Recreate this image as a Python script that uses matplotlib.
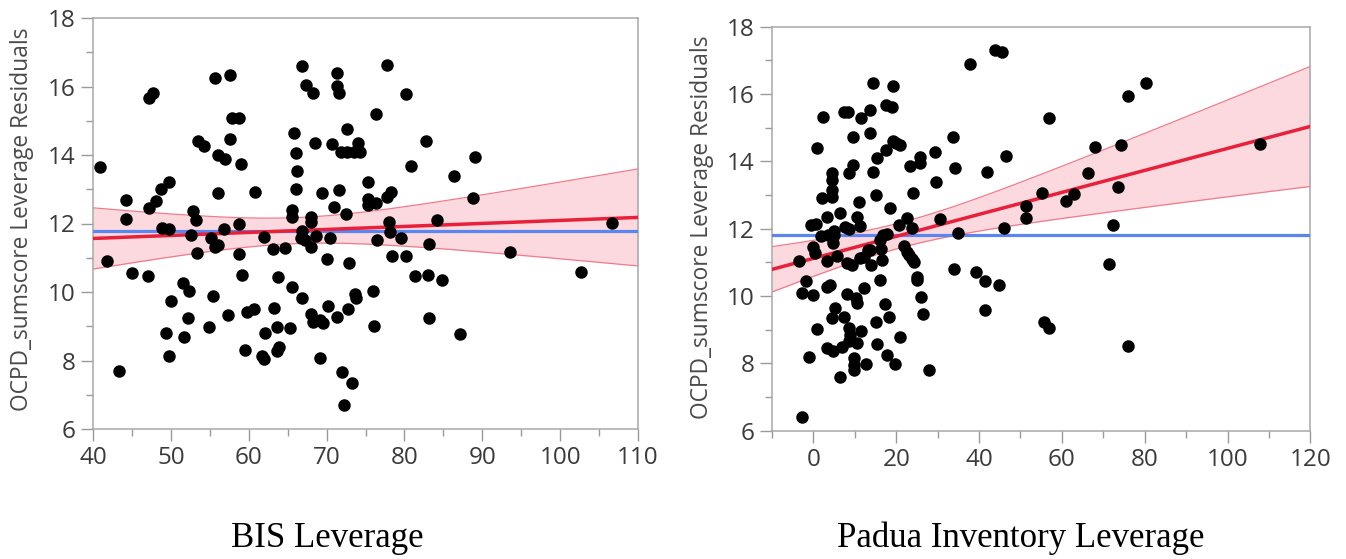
import numpy as np
import matplotlib
matplotlib.use("Agg")
import matplotlib.pyplot as plt
from matplotlib.ticker import MultipleLocator

# ---------------- data ----------------
bis_x = [40.9, 41.8, 43.3, 44.3, 44.2, 45.0, 47.1, 47.2, 47.7, 47.2,
         48.1, 48.7, 49.8, 48.8, 49.7, 49.4, 49.7, 50.0, 51.5,
         51.7, 52.2, 52.3, 52.6, 52.9, 53.2, 53.4, 53.5, 54.3, 54.9,
         55.1, 55.4, 55.7, 56.0, 55.7, 56.1, 56.1, 56.8, 57.0, 57.4,
         57.6, 57.6, 57.9, 58.8, 58.7, 58.7, 59.0, 59.1, 59.5, 59.8,
         60.7, 60.8, 61.9, 61.7, 62.0, 62.1, 63.1, 63.3, 63.6, 63.8,
         63.6, 63.9, 64.7, 65.3, 65.5, 65.5, 65.5, 65.8, 66.1, 66.2,
         66.1, 66.7, 66.9, 67.2, 66.8, 66.9, 67.4, 68.3, 68.0, 68.0,
         68.0, 68.0, 68.3, 69.1, 69.6, 68.5, 68.7, 69.1, 69.4, 70.0,
         70.2, 70.4, 70.7, 70.9, 71.3, 71.6, 71.4, 71.4, 71.6, 71.9,
         72.6, 72.0, 72.3, 72.5, 72.6, 72.8, 72.9, 73.3, 73.5, 73.6,
         73.8, 74.1, 74.3, 75.3, 75.3, 75.5, 75.3, 76.4, 75.9, 76.1,
         76.3, 76.5, 77.7, 77.7, 78.3, 78.0, 78.1, 78.4, 79.5, 80.2,
         80.2, 80.9, 81.3, 82.8, 83.1, 83.0, 83.2, 84.2, 84.8, 86.4,
         87.2, 88.8, 89.0, 93.6, 102.7, 106.7]
bis_y = [13.64, 10.91, 7.68, 12.69, 12.12, 10.55, 10.46, 15.66, 15.81, 12.45,
         12.65, 13.02, 13.22, 11.86, 11.83, 8.79, 8.13, 9.74, 10.26,
         8.69, 9.24, 10.04, 11.65, 12.37, 12.10, 11.15, 14.41, 14.25, 8.97,
         11.59, 9.89, 11.30, 11.36, 16.24, 14.00, 12.90, 11.83, 13.88, 9.32,
         16.35, 14.46, 15.07, 15.08, 11.98, 11.12, 13.74, 10.50, 8.32, 9.41,
         9.50, 12.93, 11.60, 8.14, 8.03, 8.80, 11.27, 9.52, 8.97, 10.44,
         8.28, 8.38, 11.29, 8.94, 10.14, 12.20, 12.38, 14.64, 14.06, 13.54,
         13.00, 11.57, 11.78, 11.51, 9.83, 16.60, 16.03, 15.80, 12.20, 12.03,
         11.32, 9.36, 9.12, 9.18, 9.09, 14.35, 11.63, 8.06, 12.90, 10.97,
         9.58, 11.57, 14.32, 12.49, 16.01, 15.80, 16.39, 9.28, 12.98, 14.10,
         14.10, 7.65, 6.69, 12.28, 14.77, 9.51, 10.86, 7.33, 14.08, 9.95,
         9.82, 14.35, 14.10, 13.22, 12.72, 12.61, 12.53, 12.59, 10.03, 9.00,
         15.20, 11.51, 16.62, 12.78, 12.93, 12.05, 11.75, 11.05, 11.59, 15.78,
         11.05, 13.68, 10.48, 14.40, 11.41, 10.51, 9.23, 12.09, 10.34, 13.39,
         8.77, 12.74, 13.94, 11.18, 10.59, 12.02]

padua_x = [-3.5, -2.7, -2.7, -1.7, -1.1, -0.7, 0.6, -0.2, 0.3, -0.2,
           0.8, 0.8, 1.8, 3.5, 2.2, 2.0, 3.2, 3.2, 4.0, 3.3,
           3.4, 4.8, 4.4, 5.1, 4.5, 4.5, 4.5, 4.5, 5.0, 5.0,
           4.8, 5.8, 6.3, 6.4, 7.4, 6.8, 8.0, 8.2, 9.4, 7.4,
           8.4, 8.7, 9.6, 9.6, 8.6, 8.8, 8.6, 9.8, 9.8, 9.8,
           10.2, 10.6, 10.6, 11.0, 10.6, 11.2, 11.2, 12.2, 11.4, 11.6,
           12.2, 12.6, 13.1, 13.6, 13.7, 13.7, 14.0, 14.4, 14.5, 15.0,
           15.1, 15.3, 15.4, 16.1, 16.2, 16.6, 16.0, 16.9, 17.7, 17.2,
           17.5, 17.5, 18.9, 17.8, 18.2, 18.5, 19.1, 19.3, 19.9, 20.9,
           19.8, 20.8, 20.6, 21.8, 22.5, 23.2, 23.9, 24.4, 25.1, 25.1,
           22.7, 23.7, 23.3, 24.1, 25.7, 25.7, 25.9, 26.4, 28.0, 29.4,
           29.6, 30.5, 33.6, 34.2, 33.9, 34.9, 37.8, 39.3, 41.4, 41.4,
           41.9, 43.9, 45.5, 44.7, 45.9, 46.5, 51.3, 51.3, 55.1,
           55.7, 57.0, 56.8, 61.0, 63.0, 66.3, 67.9, 71.4, 72.4, 73.6,
           74.3, 76.0, 76.0, 80.3, 107.8, 7.6, 8.6]
padua_y = [11.05, 6.42, 10.10, 10.46, 8.20, 12.11, 12.15, 11.47, 11.27, 10.03,
           9.01, 14.39, 11.78, 11.81, 15.33, 12.90, 11.05, 10.28, 10.33, 12.34,
           8.45, 8.38, 9.35, 9.64, 13.66, 13.45, 13.15, 12.95, 11.94, 11.80,
           11.57, 11.20, 7.60, 12.46, 9.39, 8.50, 10.06, 10.97, 10.92, 15.48,
           15.48, 13.65, 13.90, 14.73, 9.04, 8.85, 8.65, 8.15, 7.95, 7.80,
           9.93, 9.79, 8.60, 12.78, 12.36, 12.08, 11.12, 11.17, 15.30, 8.97,
           10.23, 7.97, 11.38, 11.38, 15.53, 14.85, 10.92, 13.69, 16.34, 9.24,
           13.00, 8.58, 14.11, 10.48, 11.39, 11.07, 11.66, 11.81, 11.84, 9.76,
           14.34, 15.67, 15.62, 8.25, 9.39, 12.62, 16.24, 14.60, 14.55, 14.49,
           7.97, 8.79, 12.11, 11.49, 11.32, 11.22, 11.09, 11.02, 10.58, 10.48,
           12.33, 12.01, 13.86, 13.05, 14.14, 13.94, 9.98, 9.47, 7.80, 14.29,
           13.40, 12.28, 14.72, 13.79, 10.79, 11.86, 16.89, 10.72, 10.46, 9.59,
           13.69, 17.31, 17.24, 10.33, 12.01, 14.17, 12.68, 12.31, 13.07,
           9.22, 9.04, 15.28, 12.83, 13.02, 13.66, 14.44, 10.95, 12.10, 13.23,
           14.49, 8.52, 15.94, 16.32, 14.52, 12.06, 11.99]

x_labels = ["BIS Leverage", "Padua Inventory Leverage"]
y_label = "OCPD_sumscore Leverage Residuals"
bis_xlim = (40, 110)
padua_xlim = (-10, 120)
ylim = (6, 18)

# ---------------- style ----------------
W, H = 1346, 559
fig = plt.figure(figsize=(W / 100, H / 100), dpi=100)

TICK_COLOR = "#9a9a9a"
LABEL_COLOR = "#3a3a3a"
RED = "#e8203a"
BAND = "#fbd9df"
BAND_EDGE = "#f27a8a"
BLUE = "#5a86f0"


def fit_band(x, y, grid, t=1.977):
    x = np.asarray(x, float)
    y = np.asarray(y, float)
    n = len(x)
    xm, ym = x.mean(), y.mean()
    sxx = ((x - xm) ** 2).sum()
    b = ((x - xm) * (y - ym)).sum() / sxx
    a = ym - b * xm
    s = np.sqrt(((y - (a + b * x)) ** 2).sum() / (n - 2))
    yhat = a + b * grid
    se = s * np.sqrt(1.0 / n + (grid - xm) ** 2 / sxx)
    return yhat, yhat - t * se, yhat + t * se, ym


def panel(rect, x, y, xlim, xmajor, label_pos):
    ax = fig.add_axes(rect)
    grid = np.linspace(xlim[0], xlim[1], 200)
    yhat, lo, hi, ym = fit_band(x, y, grid)
    ax.fill_between(grid, lo, hi, color=BAND, lw=0, zorder=1)
    ax.plot(grid, lo, color=BAND_EDGE, lw=0.9, zorder=2)
    ax.plot(grid, hi, color=BAND_EDGE, lw=0.9, zorder=2)
    ax.axhline(ym, color=BLUE, lw=2.3, zorder=3)
    ax.plot(grid, yhat, color=RED, lw=2.5, zorder=4)
    ax.plot(x, y, "o", color="black", ms=9, mec="black", mew=0, zorder=5)
    ax.set_xlim(*xlim)
    ax.set_ylim(*ylim)
    ax.xaxis.set_major_locator(MultipleLocator(xmajor))
    ax.xaxis.set_minor_locator(MultipleLocator(xmajor / 2))
    ax.yaxis.set_major_locator(MultipleLocator(2))
    ax.yaxis.set_minor_locator(MultipleLocator(1))
    for sp in ax.spines.values():
        sp.set_color("#a8a8a8")
        sp.set_linewidth(1.1)
    ax.tick_params(which="major", length=8.5, width=1.0, color=TICK_COLOR,
                   labelsize=17.5, labelcolor=LABEL_COLOR, pad=4)
    ax.tick_params(which="minor", length=5, width=1.0, color=TICK_COLOR)
    for lab in ax.get_xticklabels() + ax.get_yticklabels():
        lab.set_family("Open Sans")
    ax.set_ylabel(y_label, family="Open Sans", fontsize=16.4, color="#4a4a4a")
    ax.yaxis.set_label_coords(*label_pos)
    return ax


ax1 = panel([93 / W, 1 - 429 / H, 545 / W, 411 / H], bis_x, bis_y,
            bis_xlim, 10, ((34 - 93) / 545, 0.511))
ax2 = panel([772 / W, 1 - 430.7 / H, 538.4 / W, 404 / H], padua_x, padua_y,
            padua_xlim, 20, ((714 - 772) / 538.4, 0.504))

fig.text(327 / W, 1 - 547 / H, x_labels[0], family="Liberation Serif",
         fontsize=25, ha="center", va="baseline", color="black")
fig.text(1021 / W, 1 - 547 / H, x_labels[1], family="Liberation Serif",
         fontsize=25, ha="center", va="baseline", color="black")

fig.savefig("out.png", dpi=100)
